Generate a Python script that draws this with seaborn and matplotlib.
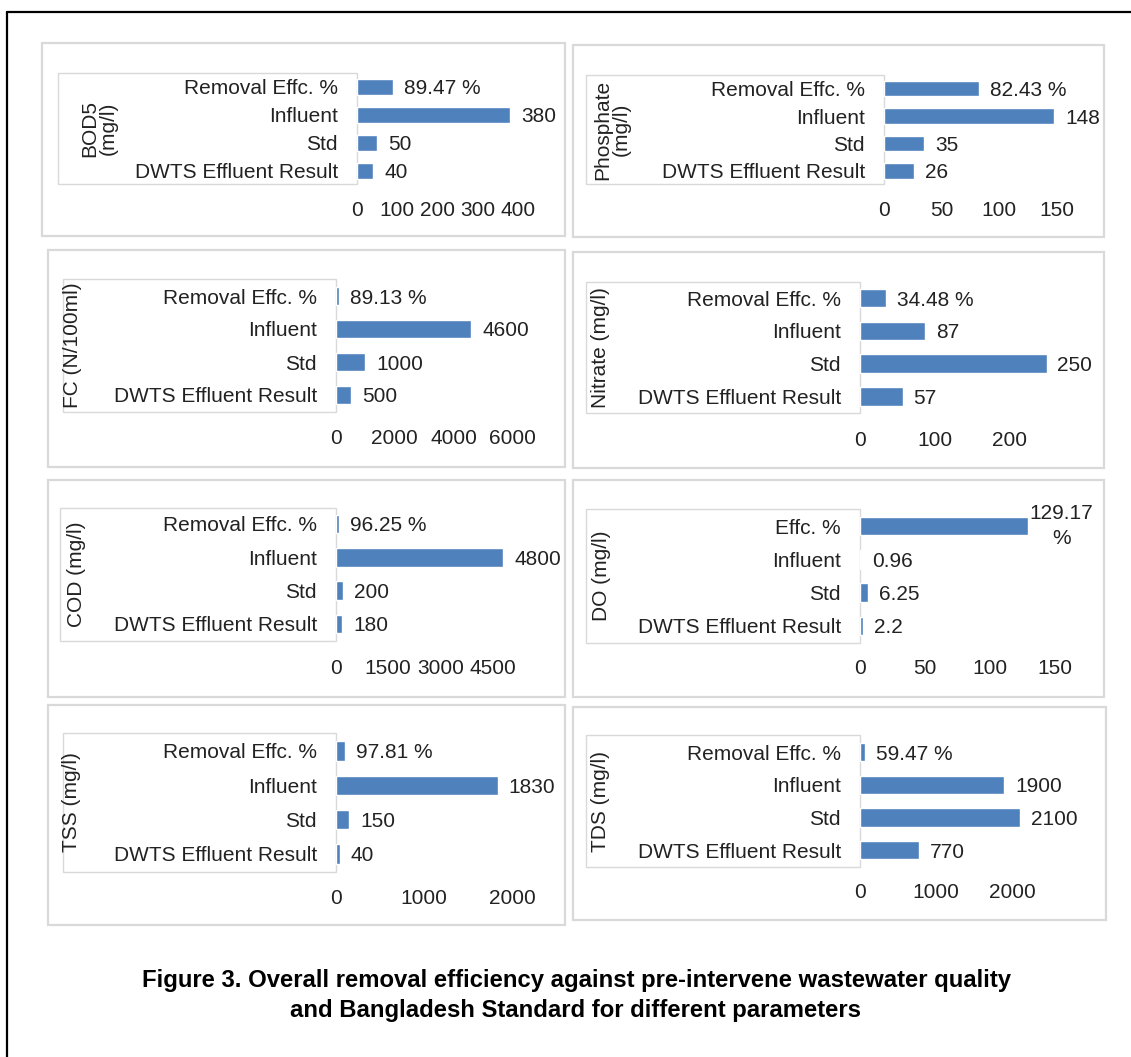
import matplotlib
matplotlib.use("Agg")
import matplotlib.pyplot as plt
import pandas as pd
import seaborn as sns
from matplotlib.patches import Rectangle
from matplotlib.lines import Line2D

# ---------------- data ----------------
categories = ["Removal Effc. %", "Influent", "Std", "DWTS Effluent Result"]
do_categories = ["Effc. %", "Influent", "Std", "DWTS Effluent Result"]

bod5_values = [89.47, 380, 50, 40]
phosphate_values = [82.43, 148, 35, 26]
fc_values = [89.13, 4600, 1000, 500]
nitrate_values = [34.48, 87, 250, 57]
cod_values = [96.25, 4800, 200, 180]
do_values = [129.17, 0.96, 6.25, 2.2]
tss_values = [97.81, 1830, 150, 40]
tds_values = [59.47, 1900, 2100, 770]

bod5_ticks = [0, 100, 200, 300, 400]
phosphate_ticks = [0, 50, 100, 150]
fc_ticks = [0, 2000, 4000, 6000]
nitrate_ticks = [0, 100, 200]
cod_ticks = [0, 1500, 3000, 4500]
do_ticks = [0, 50, 100, 150]
tss_ticks = [0, 1000, 2000]
tds_ticks = [0, 1000, 2000]

axis_titles = ["BOD5\n(mg/l)", "Phosphate\n(mg/l)", "FC (N/100ml)", "Nitrate (mg/l)",
               "COD (mg/l)", "DO (mg/l)", "TSS (mg/l)", "TDS (mg/l)"]

caption_lines = ["Figure 3. Overall removal efficiency against pre-intervene wastewater quality",
                 "and Bangladesh Standard for different parameters"]

# ---------------- layout (pixels) ----------------
W, H = 1131, 1057
panel_layout = [
    # frame box, label box (right edge = bar origin), first row y, row step, px per unit, tick y, title x
    dict(frame=(42, 43, 565, 236), box=(58, 73, 357, 184), row0=87, step=28.0, scale=0.403, ticky=208, labx=99),
    dict(frame=(573, 45, 1104, 237), box=(586, 75, 884, 184), row0=88.5, step=27.5, scale=1.15, ticky=209, labx=612),
    dict(frame=(48, 250, 565, 467), box=(63, 279, 336, 412), row0=296, step=33.0, scale=0.0294, ticky=437, labx=72),
    dict(frame=(573, 252, 1104, 468), box=(586, 282, 860, 413), row0=298, step=32.8, scale=0.746, ticky=439, labx=601),
    dict(frame=(48, 480, 565, 697), box=(60, 508, 336, 641), row0=524, step=33.3, scale=0.0348, ticky=666, labx=76),
    dict(frame=(573, 480, 1104, 697), box=(586, 509, 860, 643), row0=526, step=33.3, scale=1.302, ticky=667, labx=601),
    dict(frame=(48, 705, 565, 925), box=(63, 733, 336, 872), row0=751, step=34.3, scale=0.0883, ticky=897, labx=72),
    dict(frame=(573, 707, 1106, 920), box=(586, 735, 860, 867), row0=752, step=32.7, scale=0.076, ticky=891, labx=601),
]

BAR_BLUE = "#4f81bd"
FRAME_GREY = "#d9d9d9"
TEXT = "#222222"
FS = 15                  # points
PT = 100 / 72            # px per point at dpi 100

sns.set_theme(style="white")
plt.rcParams["font.family"] = ["Liberation Sans", "DejaVu Sans"]

fig = plt.figure(figsize=(W / 100, H / 100), dpi=100)
fig.patch.set_facecolor("white")


def fx(px):
    return px / W


def fy(py):
    return 1 - py / H


def frame_rect(x1, y1, x2, y2, lw, z):
    r = Rectangle((fx(x1), fy(y2)), (x2 - x1) / W, (y2 - y1) / H,
                  transform=fig.transFigure, facecolor="white",
                  edgecolor=FRAME_GREY, lw=lw, zorder=z)
    fig.add_artist(r)


def value_text(v, first):
    return f"{v:.2f} %" if first else f"{v:g}"


def draw_panel(lay, cats, values, ticks, title, wrap_first=False):
    frame_rect(*lay["frame"], lw=1.6, z=-3)
    frame_rect(*lay["box"], lw=1.0, z=-2)

    origin = lay["box"][2]
    xmax = max(ticks[-1], max(values))
    ax_w = xmax * lay["scale"]
    ax_top = lay["row0"] - lay["step"] / 2
    ax_h = 4 * lay["step"]
    ax_bottom = ax_top + ax_h
    ax = fig.add_axes([fx(origin), fy(ax_bottom), ax_w / W, ax_h / H])
    ax.patch.set_alpha(0)

    df = pd.DataFrame({"category": cats, "value": values})
    sns.barplot(data=df, x="value", y="category", orient="h", color=BAR_BLUE,
                saturation=1, width=0.56, ax=ax)
    ax.set_xlim(0, xmax)
    ax.set_ylim(3.5, -0.5)
    ax.set_xticks(ticks)
    ax.set_xticklabels([f"{t:g}" for t in ticks])
    ax.set_xlabel("")
    for s in ax.spines.values():
        s.set_visible(False)
    ax.grid(False)

    xpad = (lay["ticky"] - 0.36 * FS * PT - ax_bottom) / PT
    ax.tick_params(axis="x", length=0, pad=xpad, labelsize=FS, labelcolor=TEXT)
    ax.tick_params(axis="y", length=0, pad=19 / PT, labelsize=FS, labelcolor=TEXT)

    ax.set_ylabel(title, fontsize=FS, color=TEXT, linespacing=1.0)
    ax.yaxis.label.set_va("center")
    cy = (lay["box"][1] + lay["box"][3]) / 2
    ax.yaxis.set_label_coords((lay["labx"] - origin) / ax_w, (ax_bottom - cy) / ax_h)

    bars = ax.containers[0]
    labels = [value_text(v, i == 0) for i, v in enumerate(values)]
    if wrap_first:
        first = labels[0].replace(" ", "\n")
        texts = ax.bar_label(bars, labels=[""] + labels[1:], padding=11 / PT,
                             fontsize=FS, color=TEXT)
        ax.bar_label(bars, labels=[first, "", "", ""], padding=1, fontsize=FS,
                     color=TEXT, multialignment="center", linespacing=1.45)
    else:
        texts = ax.bar_label(bars, labels=labels, padding=11 / PT, fontsize=FS, color=TEXT)
    for t in texts:
        t.set_va("center_baseline")
    return ax


series = [bod5_values, phosphate_values, fc_values, nitrate_values,
          cod_values, do_values, tss_values, tds_values]
tick_sets = [bod5_ticks, phosphate_ticks, fc_ticks, nitrate_ticks,
             cod_ticks, do_ticks, tss_ticks, tds_ticks]

for lay, vals, ticks, title in zip(panel_layout, series, tick_sets, axis_titles):
    is_do = title.startswith("DO")
    draw_panel(lay, do_categories if is_do else categories, vals, ticks, title, wrap_first=is_do)

# outer frame (left and top rules)
fig.add_artist(Line2D([fx(7), fx(7)], [fy(12), fy(H + 5)], transform=fig.transFigure,
                      color="black", lw=1.6))
fig.add_artist(Line2D([fx(7), fx(W + 5)], [fy(12), fy(12)], transform=fig.transFigure,
                      color="black", lw=1.6))

# caption
fig.text(fx(576), fy(981), caption_lines[0], ha="center", va="center",
         fontsize=17.2, fontweight="bold", color="black")
fig.text(fx(576), fy(1010), caption_lines[1], ha="center", va="center",
         fontsize=17.2, fontweight="bold", color="black")

fig.savefig("out.png", dpi=100, facecolor="white")
